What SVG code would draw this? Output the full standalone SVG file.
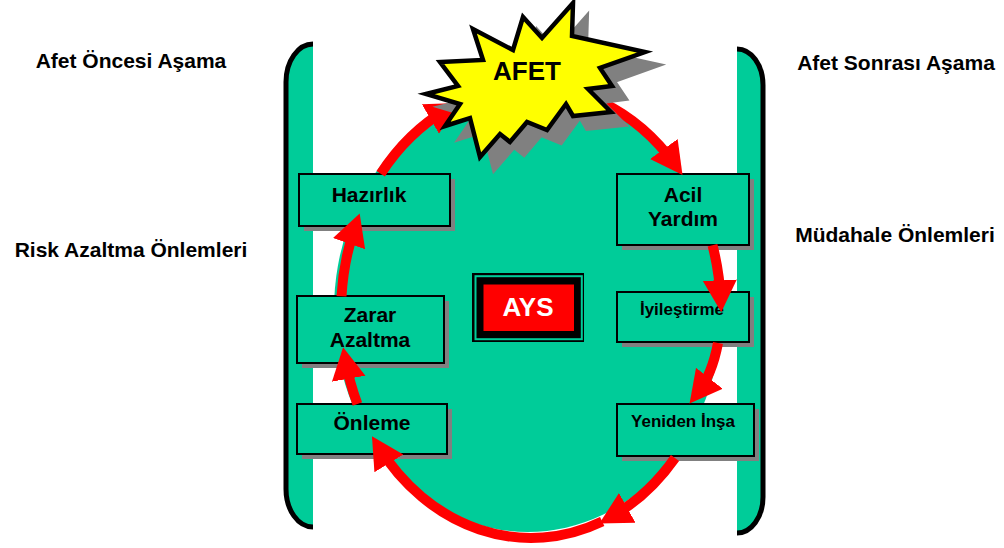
<svg xmlns="http://www.w3.org/2000/svg" width="1004" height="548" viewBox="0 0 1004 548">
  <style>
    .lbl { font-family: "Liberation Sans", Arial, sans-serif; font-weight: bold; fill: #000; }
    .side { font-size: 21px; text-anchor: middle; }
    .box { fill: #00CC99; stroke: #000; stroke-width: 2; }
    .shadow { fill: #808080; }
    .big { font-size: 21px; text-anchor: middle; }
    .small { font-size: 17px; text-anchor: middle; }
    .cycle { fill: none; stroke: #FF0000; stroke-width: 10; marker-end: url(#head); }
    .bracket-fill { fill: #00CC99; stroke: none; }
    .bracket-line { fill: none; stroke: #000; stroke-width: 5; }
  </style>
  <defs>
    <marker id="head" markerUnits="userSpaceOnUse" markerWidth="40" markerHeight="40"
            viewBox="0 -20 40 40" refX="20" refY="0" orient="auto">
      <path d="M0,-17 L32,0 L0,17 Z" fill="#FF0000"/>
    </marker>
    <polygon id="burst" points="426,94 458,86 440,62 483,60 473,29 513,50 523,17 542,38 573,3 572,36 645,52 600,68 612,86 588,89 611,112 573,116 566,104 547,130 527,122 510,142 500,134 480,157 470,118 445,126 460,104"/>
  </defs>

  <rect width="1004" height="548" fill="#FFFFFF"/>

  <!-- central cycle area and the two phase brackets -->
  <g id="background">
    <ellipse cx="528" cy="310" rx="194" ry="222" fill="#00CC99"/>
    <path class="bracket-fill" d="M313,44 A27,38 0 0 0 286,82 L286,489 A27,38 0 0 0 313,527 Z"/>
    <path class="bracket-line" d="M313,44 A27,38 0 0 0 286,82 L286,489 A27,38 0 0 0 313,527"/>
    <path class="bracket-fill" d="M737,49 A26,36 0 0 1 763,85 L763,497 A26,36 0 0 1 737,533 Z"/>
    <path class="bracket-line" d="M737,49 A26,36 0 0 1 763,85 L763,497 A26,36 0 0 1 737,533"/>
  </g>

  <!-- side captions -->
  <g id="captions" class="lbl side">
    <text x="131" y="68">Afet Öncesi Aşama</text>
    <text x="896" y="70">Afet Sonrası Aşama</text>
    <text x="131" y="257">Risk Azaltma Önlemleri</text>
    <text x="895" y="242">Müdahale Önlemleri</text>
  </g>

  <g id="node-hazirlik">
    <rect class="shadow" x="304" y="179" width="151" height="52"/>
    <rect class="box" x="299" y="174" width="151" height="52"/>
    <text class="lbl big" x="369" y="202">Hazırlık</text>
  </g>

  <g id="node-zarar-azaltma">
    <rect class="shadow" x="302" y="301" width="147" height="67"/>
    <rect class="box" x="297" y="296" width="147" height="67"/>
    <text class="lbl big" x="370" y="322">Zarar</text>
    <text class="lbl big" x="370" y="347">Azaltma</text>
  </g>

  <g id="node-onleme">
    <rect class="shadow" x="302" y="409" width="150" height="50"/>
    <rect class="box" x="297" y="404" width="150" height="50"/>
    <text class="lbl big" x="372" y="430">Önleme</text>
  </g>

  <g id="node-acil-yardim">
    <rect class="shadow" x="622" y="179" width="132" height="71"/>
    <rect class="box" x="617" y="174" width="132" height="71"/>
    <text class="lbl big" x="683" y="202">Acil</text>
    <text class="lbl big" x="683" y="226">Yardım</text>
  </g>

  <g id="node-iyilestirme">
    <rect class="shadow" x="622" y="297" width="132" height="50"/>
    <rect class="box" x="617" y="292" width="132" height="50"/>
    <text class="lbl small" x="682" y="315">İyileştirme</text>
  </g>

  <g id="node-yeniden-insa">
    <rect class="shadow" x="622" y="409" width="137" height="52"/>
    <rect class="box" x="617" y="404" width="137" height="52"/>
    <text class="lbl small" x="683" y="427">Yeniden İnşa</text>
  </g>

  <!-- red cycle arrows running clockwise along the ellipse -->
  <g id="connectors">
    <path class="cycle" d="M602.2,102.5 A190,226 0 0 1 675.5,165.2"/>
    <path class="cycle" d="M712.5,245.2 A190,226 0 0 1 720.7,300.2"/>
    <path class="cycle" d="M718,343 Q712,375 697,394"/>
    <path class="cycle" d="M675,458 A190,226 0 0 1 609.8,517.7"/>
    <path class="cycle" d="M602.2,521.5 A190,226 0 0 1 378.3,446.4"/>
    <path class="cycle" d="M357.4,403.9 A190,226 0 0 1 345.2,359.0"/>
    <path class="cycle" d="M341.5,296.2 A190,226 0 0 1 355.7,224.8"/>
    <path class="cycle" d="M380.7,173.8 A190,226 0 0 1 447.7,108.9"/>
  </g>

  <g id="node-afet">
    <use href="#burst" transform="translate(14,13)" fill="#808080" stroke="#808080" stroke-width="4" stroke-linejoin="miter"/>
    <use href="#burst" fill="#FFFF00" stroke="#000" stroke-width="4.5" stroke-linejoin="miter"/>
    <text class="lbl" x="527" y="80" font-size="26" text-anchor="middle">AFET</text>
  </g>

  <g id="node-ays">
    <rect x="472" y="273" width="112" height="69" fill="#000"/>
    <rect x="475.5" y="276.2" width="106.3" height="63" fill="none" stroke="#00CC99" stroke-width="2"/>
    <rect x="483.5" y="284.5" width="90.5" height="46.5" fill="#FF0000"/>
    <text class="lbl" x="528" y="316" font-size="26" text-anchor="middle" style="fill:#FFFFFF">AYS</text>
  </g>
</svg>
